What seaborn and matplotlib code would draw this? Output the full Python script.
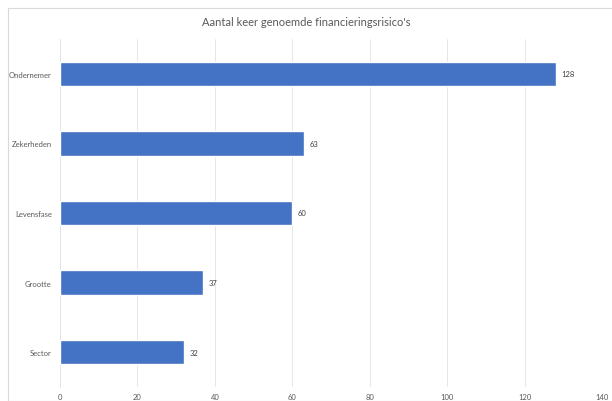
import matplotlib
matplotlib.use("Agg")
import matplotlib.pyplot as plt
import seaborn as sns
import pandas as pd
from matplotlib.patches import Rectangle

categories = ["Ondernemer", "Zekerheden", "Levensfase", "Grootte", "Sector"]
values = [128, 63, 60, 37, 32]
xticks = [0, 20, 40, 60, 80, 100, 120, 140]
title = "Aantal keer genoemde financieringsrisico's"

sns.set_theme(style="white")
plt.rcParams['font.family'] = ['Lato', 'DejaVu Sans']

df = pd.DataFrame({"cat": categories, "val": values})

fig = plt.figure(figsize=(6.12, 4.02), dpi=100)
W, H = 612, 402
ax = fig.add_axes([60 / W, 1 - 388 / H, 542 / W, 348 / H])

fig.patches.append(Rectangle((8 / W, 0), 1, 1 - 9 / H, transform=fig.transFigure,
                             fill=False, edgecolor="#d9d9d9", linewidth=0.8))

sns.barplot(data=df, x="val", y="cat", color="#4472C4", width=0.35, ax=ax,
            saturation=1, zorder=3)

ax.set_xlim(0, 140)
ax.set_xticks(xticks)
ax.set_xticklabels([str(t) for t in xticks], fontsize=5.5, color="#595959")
ax.tick_params(axis="y", labelsize=5.5, labelcolor="#595959", length=0, pad=6)
ax.tick_params(axis="x", length=0, pad=4)
ax.grid(axis="x", color="#e3e3e3", linewidth=0.6, zorder=0)
ax.set_axisbelow(True)
for s in ["top", "right", "bottom"]:
    ax.spines[s].set_visible(False)
ax.spines["left"].set_color("#e3e3e3")
ax.spines["left"].set_linewidth(0.6)
ax.set_xlabel("")
ax.set_ylabel("")

for cont in ax.containers:
    ax.bar_label(cont, labels=[str(v) for v in values], padding=4,
                 fontsize=5.5, color="#404040")

fig.text(0.5, 1 - 22 / H, title, ha="center", va="center", fontsize=8, color="#595959")

fig.savefig("out.png", dpi=100)
